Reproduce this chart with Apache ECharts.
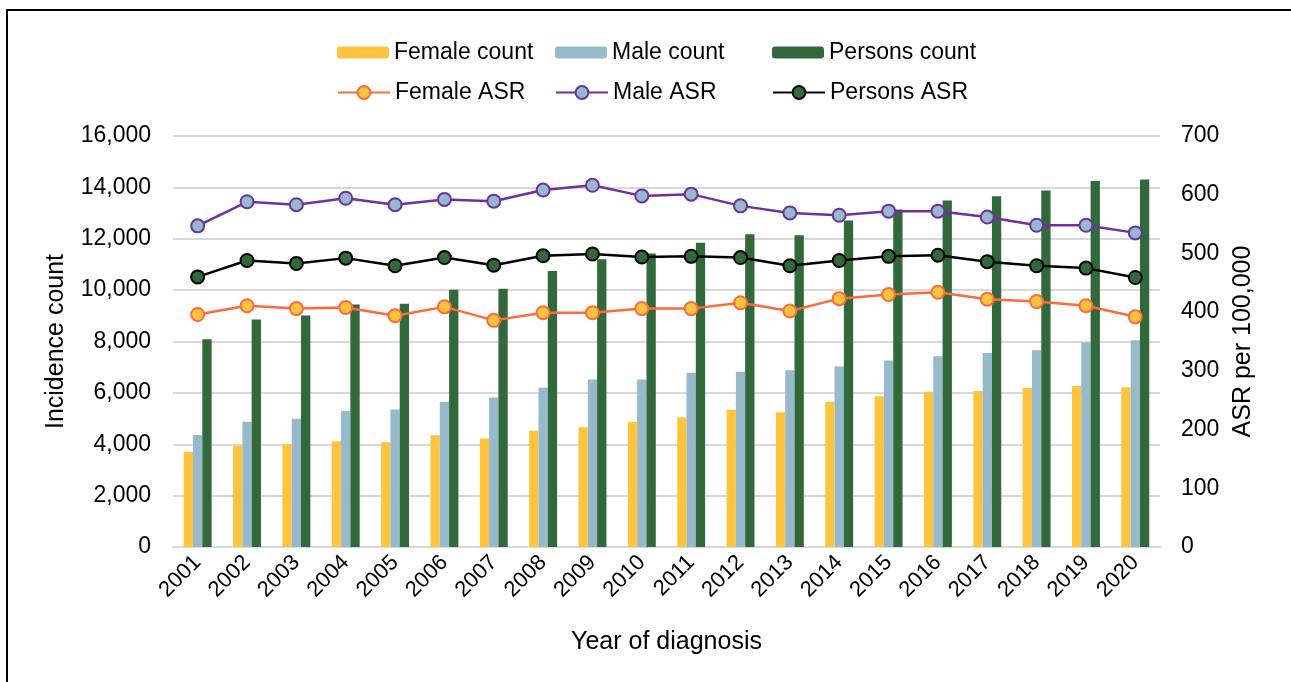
<!DOCTYPE html>
<html>
<head>
<meta charset="utf-8">
<script src="https://cdn.jsdelivr.net/npm/echarts@6/dist/echarts.min.js"></script>
<style>
  html, body { margin: 0; padding: 0; background: #fff; }
  #wrap { position: relative; width: 1291px; height: 682px; overflow: hidden; }
  #frame { position: absolute; left: 6px; top: 9px; width: 1300px; height: 700px;
           border-left: 2px solid #000; border-top: 2px solid #000; box-sizing: border-box; }
  #chart { position: absolute; left: 0; top: 0; width: 1291px; height: 682px; }
</style>
</head>
<body>
<div id="wrap">
  <div id="frame"></div>
  <div id="chart"></div>
</div>
<script>
// data
var years = ['2001','2002','2003','2004','2005','2006','2007','2008','2009','2010',
             '2011','2012','2013','2014','2015','2016','2017','2018','2019','2020'];
var femaleCount = [3710, 3950, 4000, 4120, 4080, 4350, 4220, 4530, 4660, 4880,
                   5050, 5340, 5250, 5650, 5870, 6040, 6070, 6200, 6270, 6220];
var maleCount = [4360, 4880, 4990, 5290, 5350, 5640, 5820, 6200, 6520, 6520,
                 6780, 6820, 6880, 7030, 7260, 7430, 7550, 7660, 7960, 8050];
var personsCount = [8090, 8860, 9010, 9440, 9470, 10010, 10050, 10740, 11200, 11430,
                    11840, 12180, 12140, 12710, 13140, 13490, 13650, 13880, 14250, 14310];
var femaleASR = [396, 411, 406, 408, 394, 409, 386, 399, 399, 406,
                 406, 416, 402, 423, 430, 434, 422, 418, 411, 392];
var maleASR = [547, 588, 583, 594, 583, 592, 589, 608, 616, 598,
               601, 581, 569, 565, 572, 572, 562, 548, 548, 535];
var personsASR = [460, 488, 483, 492, 479, 493, 480, 496, 499, 494,
                  495, 493, 479, 488, 495, 497, 486, 479, 475, 459];

var FONT = '"Liberation Sans", Arial, sans-serif';
var chart = echarts.init(document.getElementById('chart'));

function legendAt(name, left, top, h) {
  return {
    data: [name], left: left, top: top,
    itemWidth: 52, itemHeight: h, itemGap: 6,
    textStyle: { fontFamily: FONT, fontSize: 23, color: '#000' }
  };
}

function asrSeries(name, data, lineColor, fillColor) {
  return {
    name: name, type: 'line', yAxisIndex: 1, data: data,
    symbol: 'circle', symbolSize: 13,
    lineStyle: { color: lineColor, width: 2.5 },
    itemStyle: { color: fillColor, borderColor: lineColor, borderWidth: 2 },
    z: 5
  };
}

chart.setOption({
  animation: false,
  textStyle: { fontFamily: FONT },
  legend: [
    legendAt('Female count', 332, 36, 12),
    legendAt('Male count', 550, 36, 12),
    legendAt('Persons count', 767, 36, 12),
    legendAt('Female ASR', 332, 76, 16),
    legendAt('Male ASR', 550, 76, 16),
    legendAt('Persons ASR', 767, 76, 16)
  ],
  grid: { left: 173, right: 131, top: 136, bottom: 135 },
  xAxis: {
    type: 'category', data: years,
    name: 'Year of diagnosis', nameLocation: 'middle', nameGap: 83,
    nameTextStyle: { fontFamily: FONT, fontSize: 25, color: '#000' },
    axisLine: { lineStyle: { color: '#d9d9d9', width: 2 } },
    axisTick: { show: false },
    axisLabel: { rotate: 45, margin: 12, fontFamily: FONT, fontSize: 22, color: '#000', interval: 0 }
  },
  yAxis: [
    {
      type: 'value', min: 0, max: 16000, interval: 2000,
      name: 'Incidence count', nameLocation: 'middle', nameGap: 104, nameRotate: 90,
      nameTextStyle: { fontFamily: FONT, fontSize: 25, color: '#000' },
      axisLine: { show: false }, axisTick: { show: false },
      axisLabel: {
        margin: 22, fontFamily: FONT, fontSize: 23, color: '#000',
        formatter: function (v) { return v.toLocaleString('en-US'); }
      },
      splitLine: { lineStyle: { color: '#d9d9d9', width: 2 } }
    },
    {
      type: 'value', min: 0, max: 700, interval: 100, position: 'right',
      name: 'ASR per 100,000', nameLocation: 'middle', nameGap: 70, nameRotate: 90,
      nameTextStyle: { fontFamily: FONT, fontSize: 25, color: '#000' },
      axisLine: { show: false }, axisTick: { show: false },
      axisLabel: { margin: 21, fontFamily: FONT, fontSize: 23, color: '#000' },
      splitLine: { show: false }
    }
  ],
  series: [
    { name: 'Female count', type: 'bar', data: femaleCount, barWidth: 9.3, barGap: '0%',
      itemStyle: { color: '#ffc43d' } },
    { name: 'Male count', type: 'bar', data: maleCount, barWidth: 9.3, barGap: '0%',
      itemStyle: { color: '#97b9cc' } },
    { name: 'Persons count', type: 'bar', data: personsCount, barWidth: 9.3, barGap: '0%',
      itemStyle: { color: '#31693b' } },
    asrSeries('Female ASR', femaleASR, '#ff6a3d', '#ffc43d'),
    asrSeries('Male ASR', maleASR, '#7030a0', '#97b9cc'),
    asrSeries('Persons ASR', personsASR, '#000000', '#31693b')
  ]
});
</script>
</body>
</html>
